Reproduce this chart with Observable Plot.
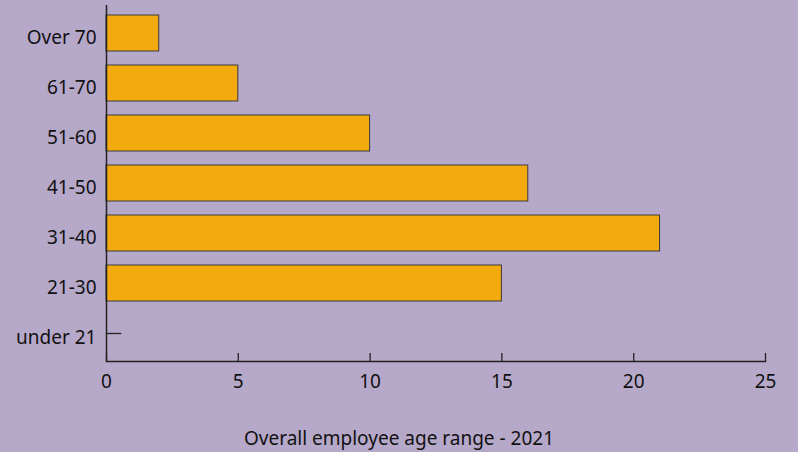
<!DOCTYPE html>
<html>
<head>
<meta charset="utf-8">
<script src="https://cdn.jsdelivr.net/npm/d3@7"></script>
<script src="https://cdn.jsdelivr.net/npm/@observablehq/plot@0.6"></script>
<style>
  html, body { margin: 0; padding: 0; background: #b6a8c9; }
  #chart { width: 798px; height: 452px; overflow: hidden; font-family: "Noto Sans", sans-serif; color: #111; }
  #caption { text-align: center; font-size: 19px; line-height: 24px; margin-top: 6px; color: #111; }
</style>
</head>
<body>
<div id="chart"></div>
<script>
const categories = ["Over 70", "61-70", "51-60", "41-50", "31-40", "21-30", "under 21"];
const values = [2, 5, 10, 16, 21, 15, 0];
const xTicks = [0, 5, 10, 15, 20, 25];
const captionText = "Overall employee age range - 2021";

const data = categories.map((c, i) => ({category: c, value: values[i]}));

const plot = Plot.plot({
  width: 798,
  height: 420,
  marginLeft: 106,
  marginRight: 33,
  marginTop: 5,
  marginBottom: 59,
  style: {background: "#b6a8c9", fontFamily: "Noto Sans, sans-serif", fontSize: "19px", color: "#111"},
  x: {domain: [0, 25], label: null},
  y: {domain: categories, paddingInner: 0.29, paddingOuter: 0.145, label: null},
  marks: [
    Plot.ruleY(categories, {y: d => d, x1: 0, x2: 0.58, stroke: "#222", strokeWidth: 1.3}),
    Plot.barX(data, {y: "category", x: "value", fill: "#f3aa0f", stroke: "#3a3a3a", strokeWidth: 1}),
    Plot.ruleX([0], {stroke: "#222", strokeWidth: 1.5}),
    Plot.frame({anchor: "bottom", stroke: "#222", strokeWidth: 1.5}),
    Plot.ruleX(xTicks, {x: d => d, insetTop: 348, stroke: "#222", strokeWidth: 1.3}),
    Plot.axisX({ticks: xTicks, tickSize: 0, tickPadding: 13, fontSize: 19, fill: "#111"}),
    Plot.axisY({tickSize: 0, tickPadding: 10, fontSize: 19, dy: 4, fill: "#111"})
  ]
});
const chart = document.getElementById("chart");
chart.appendChild(plot);
const cap = document.createElement("div");
cap.id = "caption";
cap.textContent = captionText;
chart.appendChild(cap);
</script>
</body>
</html>
